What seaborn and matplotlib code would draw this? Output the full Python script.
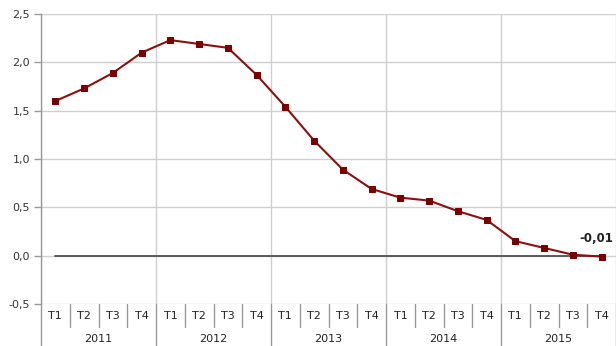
import matplotlib
matplotlib.use("Agg")
import matplotlib.pyplot as plt
import matplotlib.transforms as mtransforms
import seaborn as sns
import pandas as pd
import numpy as np

years = ["2011", "2012", "2013", "2014", "2015"]
quarters = ["T1", "T2", "T3", "T4"]
values = [1.60, 1.73, 1.89, 2.10, 2.23, 2.19, 2.15, 1.87, 1.54, 1.19, 0.89, 0.69,
          0.60, 0.57, 0.46, 0.37, 0.15, 0.08, 0.01, -0.01]
y_ticks = [-0.5, 0.0, 0.5, 1.0, 1.5, 2.0, 2.5]
y_tick_labels = ["-0,5", "0,0", "0,5", "1,0", "1,5", "2,0", "2,5"]
last_label = "-0,01"

sns.set_theme(style="white")
plt.rcParams['font.family'] = ['DejaVu Sans']

n = len(values)
df = pd.DataFrame({"idx": np.arange(n), "value": values,
                   "zero": np.zeros(n)})

fig = plt.figure(figsize=(6.16, 3.46), dpi=100)
ax = fig.add_axes([41/616, 1-304/346, 1-41/616, (304-14)/346])

grid_c = "#cfcfcf"
for yt in y_ticks:
    ax.axhline(yt, color=grid_c, lw=1.0, zorder=0)
for b in np.arange(-0.5, n + 0.5, 4):
    ax.axvline(b, color=grid_c, lw=1.0, zorder=0)

sns.lineplot(data=df, x="idx", y="zero", ax=ax, color="#505050", lw=1.3, zorder=1)
sns.lineplot(data=df, x="idx", y="value", ax=ax, color="#8b1010", lw=1.5,
             marker="s", markersize=5, markeredgecolor="#7a0000",
             markerfacecolor="#7a0000", zorder=3)

ax.set_xlim(-0.5, n - 0.5)
ax.set_ylim(-0.5, 2.5)
ax.set_yticks(y_ticks)
ax.set_yticklabels(y_tick_labels, fontsize=8, color="#333333")
ax.tick_params(axis="y", length=5, width=1, color="#999999", pad=3, left=True)
ax.set_xticks([])
ax.set_xlabel("")
ax.set_ylabel("")
for s in ["top", "right", "bottom"]:
    ax.spines[s].set_visible(False)
ax.spines["left"].set_color("#999999")
ax.spines["left"].set_linewidth(1.0)

trans = mtransforms.blended_transform_factory(ax.transData, fig.transFigure)
y_axis_bottom = 1 - 304/346
y_q_bottom = 1 - 327/346
# separators
for k in range(n + 1):
    x = k - 0.5
    y_end = 0.0 if k % 4 == 0 else y_q_bottom
    ax.plot([x, x], [y_axis_bottom, y_end], transform=trans, color="#999999",
            lw=1.0, clip_on=False)
for i in range(n):
    ax.text(i, 1 - 316/346, quarters[i % 4], transform=trans, ha="center",
            va="center", fontsize=8, color="#222222")
for j, yr in enumerate(years):
    ax.text(j * 4 + 1.5, 1 - 339/346, yr, transform=trans, ha="center",
            va="center", fontsize=8, color="#222222")

ax.annotate(last_label, xy=(n - 1, values[-1]), xytext=(8.5, 13),
            textcoords="offset points", fontsize=8.5, fontweight="bold",
            color="#222222", ha="right", va="center", annotation_clip=False)

fig.savefig("out.png", dpi=100)
